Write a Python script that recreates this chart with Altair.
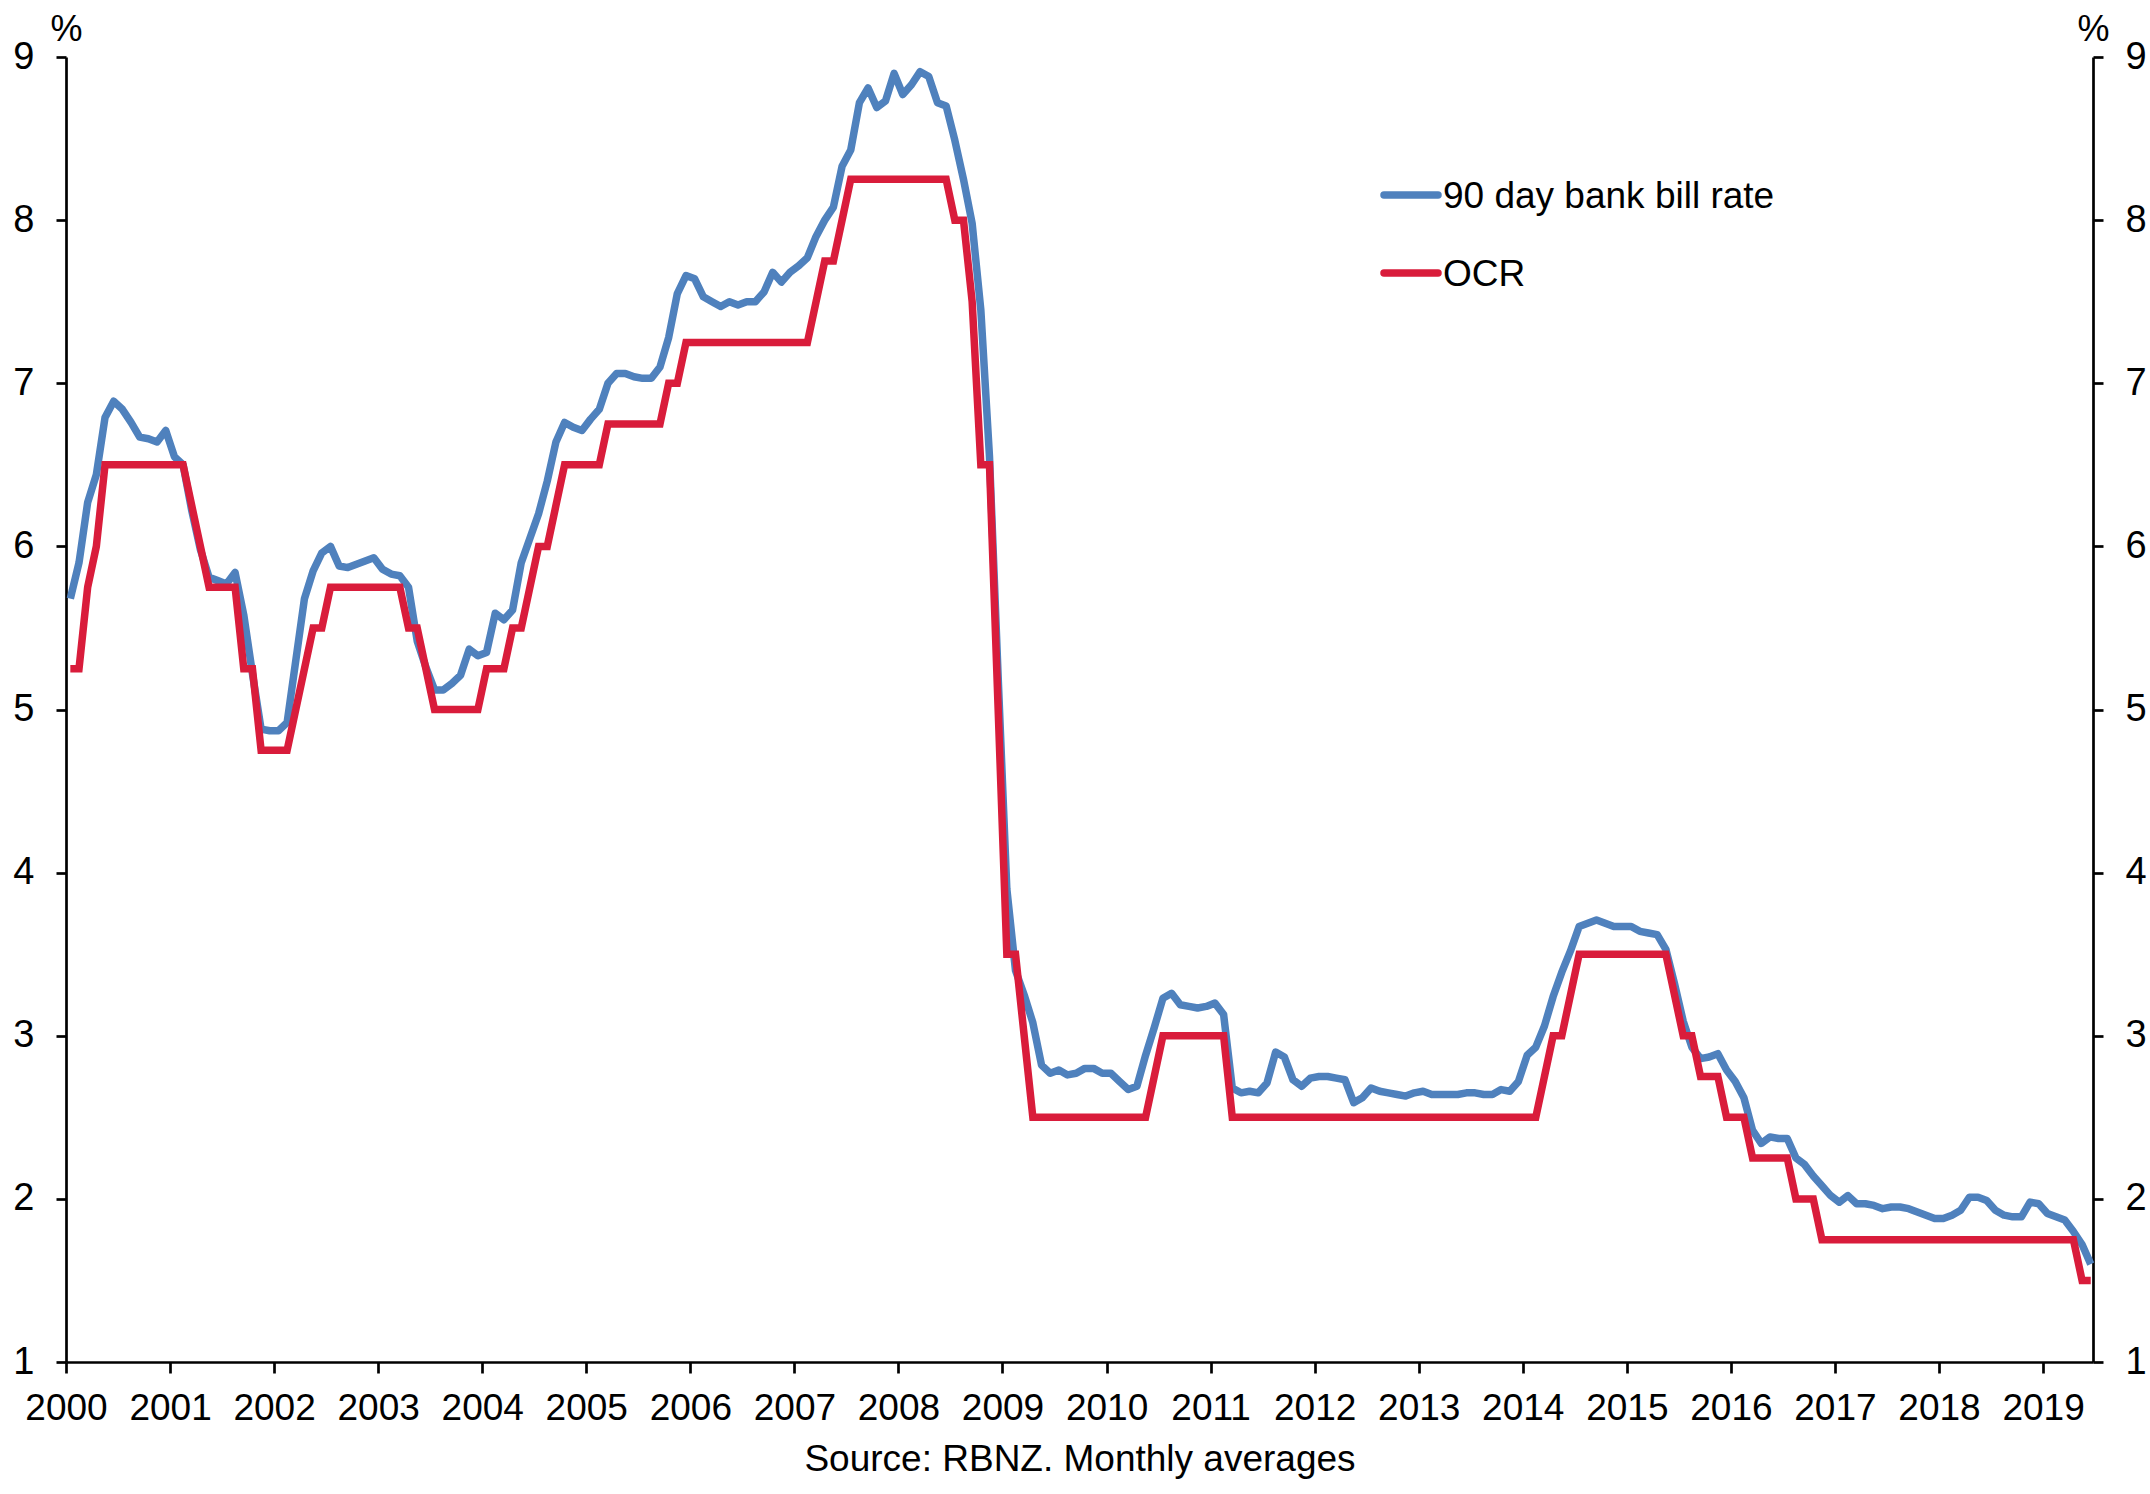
import altair as alt
import pandas as pd

# Monthly averages, January 2000 to June 2019 (%)
START_YEAR = 2000
SERIES = ["90 day bank bill rate", "OCR"]
COLORS = ["#4F81BD", "#D91C3B"]

bill_rate = [
    5.68, 5.90, 6.27, 6.44, 6.79, 6.89, 6.84, 6.76, 6.67, 6.66, 6.64, 6.71,  # 2000
    6.55, 6.50, 6.22, 5.98, 5.81, 5.79, 5.77, 5.84, 5.58, 5.22, 4.88, 4.87,  # 2001
    4.87, 4.92, 5.30, 5.68, 5.85, 5.96, 6.00, 5.88, 5.87, 5.89, 5.91, 5.93,  # 2002
    5.86, 5.83, 5.82, 5.75, 5.42, 5.26, 5.12, 5.12, 5.16, 5.21, 5.37, 5.33,  # 2003
    5.35, 5.59, 5.55, 5.61, 5.90, 6.05, 6.20, 6.40, 6.64, 6.76, 6.73, 6.71,  # 2004
    6.78, 6.84, 7.00, 7.06, 7.06, 7.04, 7.03, 7.03, 7.10, 7.28, 7.55, 7.66,  # 2005
    7.64, 7.53, 7.50, 7.47, 7.50, 7.48, 7.50, 7.50, 7.56, 7.68, 7.62, 7.68,  # 2006
    7.72, 7.77, 7.90, 8.00, 8.08, 8.33, 8.43, 8.72, 8.81, 8.69, 8.73, 8.90,  # 2007
    8.77, 8.83, 8.91, 8.88, 8.72, 8.70, 8.49, 8.25, 7.98, 7.45, 6.55, 5.20,  # 2008
    3.90, 3.40, 3.25, 3.08, 2.82, 2.77, 2.79, 2.76, 2.77, 2.80, 2.80, 2.77,  # 2009
    2.77, 2.72, 2.67, 2.69, 2.88, 3.05, 3.23, 3.26, 3.19, 3.18, 3.17, 3.18,  # 2010
    3.20, 3.13, 2.68, 2.65, 2.66, 2.65, 2.71, 2.90, 2.87, 2.73, 2.69, 2.74,  # 2011
    2.75, 2.75, 2.74, 2.73, 2.59, 2.62, 2.68, 2.66, 2.65, 2.64, 2.63, 2.65,  # 2012
    2.66, 2.64, 2.64, 2.64, 2.64, 2.65, 2.65, 2.64, 2.64, 2.67, 2.66, 2.72,  # 2013
    2.88, 2.93, 3.06, 3.24, 3.39, 3.52, 3.67, 3.69, 3.71, 3.69, 3.67, 3.67,  # 2014
    3.67, 3.64, 3.63, 3.62, 3.53, 3.32, 3.09, 2.93, 2.86, 2.87, 2.89, 2.79,  # 2015
    2.72, 2.62, 2.42, 2.34, 2.38, 2.37, 2.37, 2.25, 2.21, 2.14, 2.08, 2.02,  # 2016
    1.98, 2.02, 1.97, 1.97, 1.96, 1.94, 1.95, 1.95, 1.94, 1.92, 1.90, 1.88,  # 2017
    1.88, 1.90, 1.93, 2.01, 2.01, 1.99, 1.93, 1.90, 1.89, 1.89, 1.98, 1.97,  # 2018
    1.91, 1.89, 1.87, 1.80, 1.72, 1.60,                                      # 2019
]

ocr = [
    5.25, 5.25, 5.75, 6.00, 6.50, 6.50, 6.50, 6.50, 6.50, 6.50, 6.50, 6.50,  # 2000
    6.50, 6.50, 6.25, 6.00, 5.75, 5.75, 5.75, 5.75, 5.25, 5.25, 4.75, 4.75,  # 2001
    4.75, 4.75, 5.00, 5.25, 5.50, 5.50, 5.75, 5.75, 5.75, 5.75, 5.75, 5.75,  # 2002
    5.75, 5.75, 5.75, 5.50, 5.50, 5.25, 5.00, 5.00, 5.00, 5.00, 5.00, 5.00,  # 2003
    5.25, 5.25, 5.25, 5.50, 5.50, 5.75, 6.00, 6.00, 6.25, 6.50, 6.50, 6.50,  # 2004
    6.50, 6.50, 6.75, 6.75, 6.75, 6.75, 6.75, 6.75, 6.75, 7.00, 7.00, 7.25,  # 2005
    7.25, 7.25, 7.25, 7.25, 7.25, 7.25, 7.25, 7.25, 7.25, 7.25, 7.25, 7.25,  # 2006
    7.25, 7.25, 7.50, 7.75, 7.75, 8.00, 8.25, 8.25, 8.25, 8.25, 8.25, 8.25,  # 2007
    8.25, 8.25, 8.25, 8.25, 8.25, 8.25, 8.00, 8.00, 7.50, 6.50, 6.50, 5.00,  # 2008
    3.50, 3.50, 3.00, 2.50, 2.50, 2.50, 2.50, 2.50, 2.50, 2.50, 2.50, 2.50,  # 2009
    2.50, 2.50, 2.50, 2.50, 2.50, 2.75, 3.00, 3.00, 3.00, 3.00, 3.00, 3.00,  # 2010
    3.00, 3.00, 2.50, 2.50, 2.50, 2.50, 2.50, 2.50, 2.50, 2.50, 2.50, 2.50,  # 2011
    2.50, 2.50, 2.50, 2.50, 2.50, 2.50, 2.50, 2.50, 2.50, 2.50, 2.50, 2.50,  # 2012
    2.50, 2.50, 2.50, 2.50, 2.50, 2.50, 2.50, 2.50, 2.50, 2.50, 2.50, 2.50,  # 2013
    2.50, 2.50, 2.75, 3.00, 3.00, 3.25, 3.50, 3.50, 3.50, 3.50, 3.50, 3.50,  # 2014
    3.50, 3.50, 3.50, 3.50, 3.50, 3.25, 3.00, 3.00, 2.75, 2.75, 2.75, 2.50,  # 2015
    2.50, 2.50, 2.25, 2.25, 2.25, 2.25, 2.25, 2.00, 2.00, 2.00, 1.75, 1.75,  # 2016
    1.75, 1.75, 1.75, 1.75, 1.75, 1.75, 1.75, 1.75, 1.75, 1.75, 1.75, 1.75,  # 2017
    1.75, 1.75, 1.75, 1.75, 1.75, 1.75, 1.75, 1.75, 1.75, 1.75, 1.75, 1.75,  # 2018
    1.75, 1.75, 1.75, 1.75, 1.50, 1.50,                                      # 2019
]

year_ticks = list(range(2000, 2020))
rate_ticks = list(range(1, 10))
SOURCE = "Source: RBNZ. Monthly averages"

FONT = "Liberation Sans"
LINE_WIDTH = 7.5

# Each monthly average sits in the middle of its month on a decimal-year axis
months = pd.date_range(f"{START_YEAR}-01-01", periods=len(bill_rate), freq="MS")
when = months.year + (months.month - 0.5) / 12

bill_df = pd.DataFrame({"when": when, "rate": bill_rate, "series": SERIES[0]})
ocr_df = pd.DataFrame({"when": when, "rate": ocr, "series": SERIES[1]})

x_scale = alt.Scale(domain=[2000, 2019.48], nice=False, zero=False)
y_scale = alt.Scale(domain=[1, 9], nice=False, zero=False)

x_axis = alt.Axis(
    values=year_ticks, format="d", grid=False,
    domainColor="black", domainWidth=2.7, tickColor="black", tickWidth=2.7, tickSize=11,
    labelFont=FONT, labelFontSize=37, labelColor="black", labelPadding=17,
    labelFlush=False, labelOverlap=False,
    title=SOURCE, titleFont=FONT, titleFontSize=37, titleFontWeight="normal",
    titleColor="black", titleY=108, titleBaseline="alphabetic",
)


def rate_axis(orient):
    return alt.Axis(
        orient=orient, values=rate_ticks, format="d", grid=False,
        domainColor="black", domainWidth=2.7, tickColor="black", tickWidth=2.7, tickSize=10,
        labelFont=FONT, labelFontSize=38, labelColor="black", labelPadding=22,
        title="%", titleFont=FONT, titleFontSize=36, titleFontWeight="normal",
        titleColor="black", titleAngle=0, titleX=0, titleY=-17,
        titleAlign="center", titleBaseline="alphabetic",
    )


bill_line = alt.Chart(bill_df).mark_line(
    color=COLORS[0], strokeWidth=LINE_WIDTH, strokeJoin="round"
).encode(
    x=alt.X("when:Q", scale=x_scale, axis=x_axis),
    y=alt.Y("rate:Q", scale=y_scale, axis=rate_axis("left")),
)

ocr_line = alt.Chart(ocr_df).mark_line(
    color=COLORS[1], strokeWidth=LINE_WIDTH, strokeJoin="miter"
).encode(
    x=alt.X("when:Q", scale=x_scale, axis=x_axis),
    y=alt.Y("rate:Q", scale=y_scale, axis=rate_axis("right")),
)

# Legend drawn inside the plot area
legend_layers = []
for i, (name, color) in enumerate(zip(SERIES, COLORS)):
    y_line = 138 + 78 * i
    legend_layers.append(
        alt.Chart(pd.DataFrame({"series": [name]})).mark_rule(
            color=color, strokeWidth=LINE_WIDTH, strokeCap="round"
        ).encode(x=alt.value(1318), x2=alt.value(1372), y=alt.value(y_line))
    )
    legend_layers.append(
        alt.Chart(pd.DataFrame({"series": [name]})).mark_text(
            align="left", baseline="alphabetic", font=FONT, fontSize=37, color="black"
        ).encode(x=alt.value(1377), y=alt.value(y_line + 13), text="series:N")
    )

chart = (
    alt.layer(bill_line, ocr_line, *legend_layers)
    .resolve_scale(y="independent")
    .properties(
        width=2027,
        height=1305,
        padding={"left": 66, "top": 57, "right": 57, "bottom": 132},
        autosize=alt.AutoSizeParams(type="none"),
        background="white",
    )
    .configure_view(stroke=None)
)

chart.save("out.html", embed_options={"renderer": "svg", "actions": False})
